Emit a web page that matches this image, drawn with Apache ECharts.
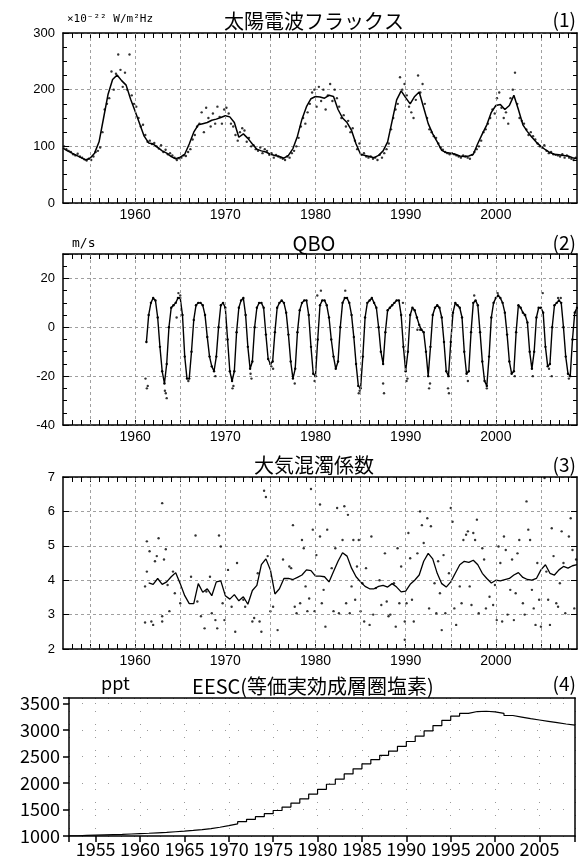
<!DOCTYPE html>
<html>
<head>
<meta charset="utf-8">
<script src="https://cdn.jsdelivr.net/npm/echarts@6/dist/echarts.min.js"></script>
<style>
  html, body { margin: 0; background: #fff; }
  #main { width: 578px; height: 861px; }
</style>
</head>
<body>
<div id="main"></div>
<script>
// (1) solar radio flux, 10^-22 W/m2Hz
var fluxLineStart = 1952, fluxLineStep = 0.5;
var fluxLine = [
  97, 92, 88, 84, 80, 76, 79, 88, 108, 150, 192, 218, 226, 216, 208, 183,
  162, 140, 118, 106, 104, 98, 92, 88, 82, 78, 81, 86, 104, 125, 138, 140,
  142, 146, 148, 151, 154, 152, 142, 116, 122, 114, 104, 95, 92, 90, 86, 84,
  82, 79, 84, 96, 118, 148, 170, 184, 188, 187, 185, 190, 188, 165, 150, 142,
  128, 104, 86, 84, 82, 80, 84, 92, 108, 145, 182, 198, 186, 175, 188, 196,
  168, 140, 122, 108, 93, 89, 88, 86, 83, 82, 83, 86, 105, 122, 138, 160,
  172, 174, 165, 172, 190, 165, 138, 126, 116, 107, 100, 94, 89, 86, 85, 84,
  83, 80, 78
];
var fluxDotStart = 1952.125, fluxDotStep = 0.25;
var fluxDots = [
  100, 95, 92, 90, 86, 84, 87, 82, 80, 77, 75, 78, 76, 82, 90, 92,
  98, 125, 165, 175, 185, 232, 200, 228, 262, 235, 205, 230, 200, 262, 190, 175,
  170, 150, 135, 138, 120, 108, 110, 104, 106, 100, 96, 102, 90, 94, 86, 88,
  84, 80, 76, 79, 80, 84, 83, 90, 95, 112, 120, 135, 140, 160, 125, 168,
  150, 135, 158, 140, 170, 152, 140, 165, 168, 158, 140, 135, 120, 110, 125, 132,
  128, 108, 115, 100, 102, 95, 92, 98, 88, 95, 92, 85, 88, 80, 85, 82,
  80, 78, 76, 82, 80, 88, 92, 100, 115, 135, 150, 140, 160, 175, 195, 200,
  170, 205, 180, 200, 165, 190, 210, 180, 200, 185, 170, 150, 155, 135, 145, 125,
  132, 110, 95, 105, 85, 88, 82, 80, 82, 78, 80, 76, 85, 80, 88, 95,
  105, 130, 150, 165, 175, 222, 200, 210, 190, 170, 160, 150, 182, 225, 195, 210,
  175, 150, 130, 125, 118, 115, 105, 98, 94, 90, 88, 86, 88, 86, 84, 82,
  80, 84, 82, 80, 78, 85, 90, 95, 100, 110, 125, 130, 140, 150, 165, 158,
  185, 195, 168, 150, 160, 140, 185, 200, 230, 175, 150, 145, 140, 130, 120, 125,
  118, 112, 105, 100, 98, 102, 92, 88, 90, 86, 85, 84, 82, 86, 80, 84,
  80, 78, 76, 80
];

// (2) QBO, m/s
var qboStart = 1961.25, qboStep = 0.25;
var qboLine = [
  -6, 5, 10,
  12, 11, 4, -8, -18, -23, -15, 0, 8, 9, 10, 12, 12, 5, -12, -21,
  -21, -10, 3, 9, 10, 10, 9, 5, -4, -12, -16, -18, -12, 0, 9, 10,
  8, -5, -18, -22, -18, -2, 8, 11, 12, 5, -8, -17, -14, 0, 8, 10,
  10, 8, -3, -13, -15, -14, -2, 8, 10, 11, 10, 6, -3, -14, -21, -17,
  -2, 7, 10, 11, 11, 5, -8, -19, -20, -5, 9, 11, 11, 9, 4, -5,
  -12, -17, -14, 0, 10, 12, 12, 10, 5, -4, -15, -24, -25, -12, 4, 10,
  11, 12, 10, 8, 0, -10, -15, -2, 7, 8, 9, 10, 11, 11, 5, -8,
  -18, -10, 5, 8, 7, 4, 1, -1, -2, -10, -20, -8, 5, 8, 9, 8,
  4, -6, -18, -20, -6, 6, 10, 9, 8, 4, -10, -19, -18, -2, 10, 11,
  9, -2, -14, -22, -24, -12, 4, 10, 12, 13, 12, 10, 6, -3, -14, -19,
  -18, -2, 9, 8, 6, 5, 2, -10, -17, -10, 4, 8, 8, 6, -8, -16,
  -15, 0, 9, 10, 11, 10, 0, -12, -19, -20, -5, 6,
  8
];
var qboExtra = [
  [1961.15, -21], [1961.3, -25], [1961.4, -24], [1963.3, -26], [1963.4, -27], [1963.5, -29],
  [1964.6, 4], [1964.8, 14], [1965.0, 13], [1965.9, -22], [1968.9, -20], [1970.8, -25],
  [1970.9, -24], [1972.9, -21], [1972.8, -19], [1975.1, -16], [1975.3, -17], [1977.7, -23],
  [1979.9, -22], [1980.2, 13], [1980.6, 15], [1983.3, 15], [1984.8, -27], [1984.9, -26],
  [1987.5, -23], [1987.6, -27], [1989.7, 10], [1990.1, -22], [1990.2, -21], [1991.3, -1],
  [1991.6, -1], [1992.6, -25], [1992.7, -23], [1994.7, -25], [1994.8, -27], [1996.9, -22],
  [1997.6, 13], [1999.0, -25], [2000.2, 14], [2002.1, -20], [2003.2, 5], [2004.1, -20],
  [2005.2, 14], [2005.9, -17], [2006.2, -20], [2006.9, 12], [2007.2, 12], [2008.1, -21]
];

// (3) atmospheric turbidity coefficient
var turbStart = 1961.5, turbStep = 0.5;
var turbLine = [
  3.92, 3.88, 4.05, 3.88, 3.95, 4.1, 4.22, 3.9, 3.55, 3.32, 3.32, 3.9,
  3.65, 3.75, 3.55, 3.95, 3.98, 3.55, 3.45, 3.58, 3.4, 3.52, 3.3, 3.7,
  3.85, 4.45, 4.62, 4.3, 3.6, 3.75, 4.05, 4.05, 4.02, 4.08, 4.15, 4.3,
  4.28, 4.12, 4.12, 4.1, 3.95, 4.25, 4.55, 4.8, 4.7, 4.35, 4.1, 3.95,
  3.82, 3.75, 3.75, 3.82, 3.85, 3.8, 3.9, 3.8, 3.66, 3.68, 3.88, 4.0,
  4.15, 4.55, 4.78, 4.62, 4.2, 3.9, 3.8, 3.95, 4.2, 4.45, 4.55, 4.52,
  4.58, 4.45, 4.2, 4.05, 3.92, 4.0, 3.98, 4.02, 4.05, 4.15, 4.22, 4.08,
  4.02, 4.0, 4.05, 4.3, 4.45, 4.2, 4.15, 4.3, 4.4, 4.35, 4.42, 4.45
];
var turbDots = [
  [1961.1, 2.77], [1961.1, 3.82], [1961.3, 5.13], [1961.6, 4.84], [1961.3, 4.25], [1961.8, 2.8],
  [1962.0, 2.7], [1962.2, 4.55], [1962.4, 4.7], [1962.6, 5.22], [1963.0, 6.24], [1963.0, 2.8],
  [1963.0, 2.95], [1963.2, 4.6], [1963.4, 4.9], [1963.6, 3.86], [1963.8, 3.1], [1964.2, 4.25],
  [1964.4, 3.62], [1965.0, 3.33], [1966.2, 4.1], [1966.7, 5.3], [1966.9, 3.38], [1967.3, 2.95],
  [1967.7, 2.6], [1967.9, 3.67], [1968.3, 4.1], [1968.5, 3.04], [1968.9, 2.84], [1969.1, 2.6],
  [1969.3, 5.3], [1969.5, 4.98], [1969.7, 3.33], [1969.9, 2.84], [1970.3, 4.3], [1970.7, 3.23],
  [1971.1, 2.5], [1971.3, 4.5], [1972.0, 3.43], [1972.2, 3.23], [1973.0, 2.8], [1973.2, 2.9],
  [1973.6, 4.2], [1973.8, 2.8], [1974.0, 2.5], [1974.3, 6.6], [1974.5, 6.42], [1974.7, 4.7],
  [1975.0, 3.1], [1975.3, 3.23], [1975.8, 2.55], [1976.4, 4.6], [1977.1, 4.4], [1977.3, 4.35],
  [1977.5, 5.6], [1977.7, 3.23], [1977.9, 3.04], [1978.3, 3.33], [1978.5, 5.17], [1978.7, 4.93],
  [1978.9, 3.82], [1979.1, 3.1], [1979.3, 3.47], [1979.5, 6.65], [1979.7, 5.47], [1979.9, 3.1],
  [1980.1, 4.73], [1980.5, 5.27], [1980.5, 6.2], [1980.7, 3.33], [1980.9, 3.72], [1981.1, 2.65],
  [1981.3, 5.47], [1981.8, 4.35], [1982.0, 3.1], [1982.2, 4.93], [1982.4, 6.1], [1982.6, 3.04],
  [1983.0, 5.17], [1983.2, 6.15], [1983.4, 3.33], [1983.6, 5.9], [1983.8, 3.04], [1984.0, 3.82],
  [1984.2, 5.17], [1984.4, 3.43], [1984.6, 4.4], [1984.8, 5.17], [1985.0, 3.1], [1985.2, 3.91],
  [1985.4, 2.8], [1985.6, 4.35], [1986.0, 2.7], [1986.2, 5.27], [1986.4, 3.0], [1986.7, 3.77],
  [1987.1, 4.0], [1987.3, 3.28], [1987.7, 4.78], [1987.9, 3.38], [1988.1, 2.95], [1988.3, 3.0],
  [1988.7, 3.91], [1988.9, 2.65], [1989.1, 4.93], [1989.3, 3.33], [1989.5, 4.4], [1989.9, 2.8],
  [1989.9, 2.27], [1990.1, 3.33], [1990.3, 5.37], [1990.5, 4.64], [1990.7, 3.43], [1990.9, 2.8],
  [1991.3, 4.78], [1991.6, 6.0], [1991.8, 5.6], [1992.0, 5.08], [1992.4, 5.8], [1992.6, 3.18],
  [1992.8, 5.57], [1993.2, 3.91], [1993.4, 3.04], [1993.6, 4.55], [1993.8, 3.62], [1994.0, 2.55],
  [1994.2, 4.73], [1994.4, 3.04], [1994.8, 4.2], [1995.0, 6.1], [1995.2, 5.7], [1995.4, 3.18],
  [1995.6, 2.7], [1996.0, 3.82], [1996.2, 3.33], [1996.4, 5.17], [1996.7, 5.32], [1996.9, 5.42],
  [1997.1, 3.82], [1997.3, 3.28], [1997.5, 5.37], [1997.7, 5.17], [1997.9, 5.76], [1998.1, 3.04],
  [1998.5, 4.93], [1998.7, 4.6], [1998.9, 3.18], [1999.3, 3.52], [1999.7, 3.28], [1999.9, 3.86],
  [2000.1, 2.84], [2000.3, 4.98], [2000.5, 4.5], [2000.7, 2.8], [2000.9, 5.27], [2001.1, 4.88],
  [2001.3, 3.0], [2001.6, 3.72], [2001.8, 4.6], [2002.0, 2.84], [2002.2, 3.62], [2002.4, 4.78],
  [2002.6, 5.17], [2003.0, 3.33], [2003.2, 3.0], [2003.4, 6.29], [2003.6, 5.47], [2003.8, 5.17],
  [2004.0, 3.72], [2004.2, 3.18], [2004.4, 2.7], [2004.6, 4.5], [2004.8, 3.43], [2005.0, 2.65],
  [2005.4, 6.97], [2005.6, 4.25], [2005.8, 3.43], [2006.0, 2.7], [2006.2, 5.51], [2006.4, 4.7],
  [2006.7, 3.33], [2006.9, 3.23], [2007.1, 3.91], [2007.3, 5.42], [2007.5, 4.5], [2007.7, 3.04],
  [2008.1, 5.27], [2008.3, 5.8], [2008.5, 4.88], [2008.7, 3.18], [2008.9, 4.6]
];

// (4) EESC, ppt, yearly
var eescStart = 1952, eescStep = 1;
var eesc = [
  1005, 1010, 1015, 1020, 1025, 1030, 1038, 1045, 1052, 1060,
  1068, 1080, 1092, 1105, 1120, 1140, 1165, 1195, 1230, 1270,
  1315, 1365, 1420, 1480, 1545, 1620, 1700, 1790, 1880, 1975,
  2070, 2170, 2265, 2360, 2440, 2520, 2600, 2690, 2780, 2880,
  2980, 3080, 3180, 3260, 3310, 3345, 3350, 3340, 3310, 3270,
  3240, 3210, 3185, 3160, 3135, 3110, 3090, 3080
];

// axis labels and dashed vertical grid years for panels 1-3
var labelYears = [1960, 1970, 1980, 1990, 2000];
var gridYears = [1955, 1960, 1965, 1970, 1975, 1980, 1985, 1990, 1995, 2000, 2005];

function seq(start, step, vals) {
  return vals.map(function (v, i) { return [+(start + i * step).toFixed(3), v]; });
}

var chart = echarts.init(document.getElementById('main'));

var numFont = '"Liberation Sans", Arial, sans-serif';
var jpFont = '"Noto Sans CJK JP", sans-serif';
var edge = { show: true, onZero: false, lineStyle: { color: '#000', width: 1.5 } };
var dashStyle = { color: '#888', width: 0.8, type: [3, 3] };
var dashGrid = { show: true, lineStyle: dashStyle };
var dotGrid = { show: true, lineStyle: { color: '#999', width: 1, type: [1, 12] } };
var black = { color: '#000', width: 1 };

// whole span is one interval; the yearly ticks are its minor ticks
function yearAxis(g, pos) {
  var main = pos === 'bottom';
  return {
    type: 'value', gridIndex: g, position: pos, min: 1952, max: 2009, interval: 57,
    axisLine: edge,
    axisTick: { show: false, inside: true },
    minorTick: { show: true, splitNumber: 57, length: 5, lineStyle: black },
    splitLine: { show: false },
    axisLabel: {
      show: main, margin: 5, fontSize: 14, fontFamily: numFont, color: '#000',
      customValues: labelYears,
      formatter: function (v) { return String(v); }
    }
  };
}

function valueAxis(g, pos, min, max, step, minor, hideTop) {
  var main = pos === 'left';
  return {
    type: 'value', gridIndex: g, position: pos, min: min, max: max, interval: step,
    axisLine: edge,
    axisTick: { show: true, inside: true, length: 6, lineStyle: black },
    minorTick: { show: minor > 0, splitNumber: minor || 5, length: 4, lineStyle: black },
    splitLine: main ? dashGrid : { show: false },
    axisLabel: {
      show: main, margin: 8, fontSize: 13, fontFamily: numFont, color: '#000',
      formatter: function (v) { return v === hideTop ? '' : String(v); }
    }
  };
}

var xAxes = [
  yearAxis(0, 'bottom'), yearAxis(0, 'top'),
  yearAxis(1, 'bottom'), yearAxis(1, 'top'),
  yearAxis(2, 'bottom'), yearAxis(2, 'top'),
  {
    type: 'value', gridIndex: 3, position: 'bottom', min: 1952, max: 2009, splitNumber: 11,
    axisLine: edge,
    axisTick: { show: true, inside: false, length: 6, lineStyle: { color: '#000', width: 1.5 } },
    splitLine: dotGrid,
    axisLabel: {
      margin: 4, fontSize: 18, fontFamily: jpFont, color: '#000',
      formatter: function (v) { return v % 5 === 0 ? String(v) : ''; }
    }
  },
  {
    type: 'value', gridIndex: 3, position: 'top', min: 1952, max: 2009,
    axisLine: edge, axisTick: { show: false }, axisLabel: { show: false }, splitLine: { show: false }
  }
];

var yAxes = [
  valueAxis(0, 'left', 0, 300, 100, 4), valueAxis(0, 'right', 0, 300, 100, 4),
  valueAxis(1, 'left', -40, 30, 20, 4, 30), valueAxis(1, 'right', -40, 30, 20, 4),
  valueAxis(2, 'left', 2, 7, 1, 0), valueAxis(2, 'right', 2, 7, 1, 0),
  {
    type: 'value', gridIndex: 3, position: 'left', min: 1000, max: 3600, interval: 500,
    axisLine: edge,
    axisTick: { show: true, inside: false, length: 6, lineStyle: { color: '#000', width: 1.5 } },
    splitLine: dotGrid,
    axisLabel: {
      margin: 9, fontSize: 18, fontFamily: jpFont, color: '#000',
      formatter: function (v) { return v === 3600 ? '' : String(v); }
    }
  },
  {
    type: 'value', gridIndex: 3, position: 'right', min: 1000, max: 3600,
    axisLine: edge, axisTick: { show: false }, axisLabel: { show: false }, splitLine: { show: false }
  }
];

function yearGrid() {
  return {
    silent: true, symbol: 'none', label: { show: false }, lineStyle: dashStyle,
    data: gridYears.map(function (y) { return { xAxis: y }; })
  };
}

function dots(g, data) {
  return {
    type: 'scatter', xAxisIndex: 2 * g, yAxisIndex: 2 * g, data: data,
    symbol: 'circle', symbolSize: 2.4, itemStyle: { color: '#000' }, silent: true
  };
}
function curve(g, data, extra) {
  return Object.assign({
    type: 'line', xAxisIndex: 2 * g, yAxisIndex: 2 * g, data: data,
    showSymbol: false, lineStyle: { color: '#000', width: 1.5 }, itemStyle: { color: '#000' },
    markLine: g < 3 ? yearGrid() : undefined
  }, extra || {});
}

function label(text, x, y, size, align, font) {
  return {
    type: 'text', x: x, y: y, silent: true,
    style: { text: text, font: size + 'px ' + (font || jpFont), fill: '#000', align: align, verticalAlign: 'middle' }
  };
}

chart.setOption({
  animation: false,
  backgroundColor: '#fff',
  grid: [
    { left: 63, right: 1, top: 33, height: 170 },
    { left: 63, right: 1, top: 254, height: 171 },
    { left: 63, right: 1, top: 477, height: 172 },
    { left: 69, right: 1, top: 698, height: 138 }
  ],
  xAxis: xAxes,
  yAxis: yAxes,
  graphic: [
    label('×10⁻²² W/m²Hz', 67, 19, 11, 'left', '"DejaVu Sans Mono", monospace'),
    label('太陽電波フラックス', 314, 21, 20, 'center'),
    label('(1)', 576, 20, 19, 'right'),
    label('m/s', 72, 244, 13, 'left', '"DejaVu Sans Mono", monospace'),
    label('QBO', 314, 243, 20, 'center'),
    label('(2)', 576, 243, 19, 'right'),
    label('大気混濁係数', 314, 465, 20, 'center'),
    label('(3)', 576, 465, 19, 'right'),
    label('ppt', 101, 683, 18, 'left'),
    label('EESC(等価実効成層圏塩素)', 313, 686, 20, 'center'),
    label('(4)', 576, 684, 19, 'right')
  ],
  series: [
    dots(0, seq(fluxDotStart, fluxDotStep, fluxDots)),
    curve(0, seq(fluxLineStart, fluxLineStep, fluxLine)),
    curve(1, seq(qboStart, qboStep, qboLine), { showSymbol: true, symbol: 'circle', symbolSize: 2.4, lineStyle: { color: '#000', width: 1.4 } }),
    dots(1, qboExtra),
    dots(2, turbDots),
    curve(2, seq(turbStart, turbStep, turbLine), { lineStyle: { color: '#000', width: 1.3 } }),
    curve(3, seq(eescStart, eescStep, eesc), { step: 'end', lineStyle: { color: '#000', width: 1.2 } })
  ]
});

window.addEventListener('resize', function () {
  chart.resize();
});
</script>
</body>
</html>
